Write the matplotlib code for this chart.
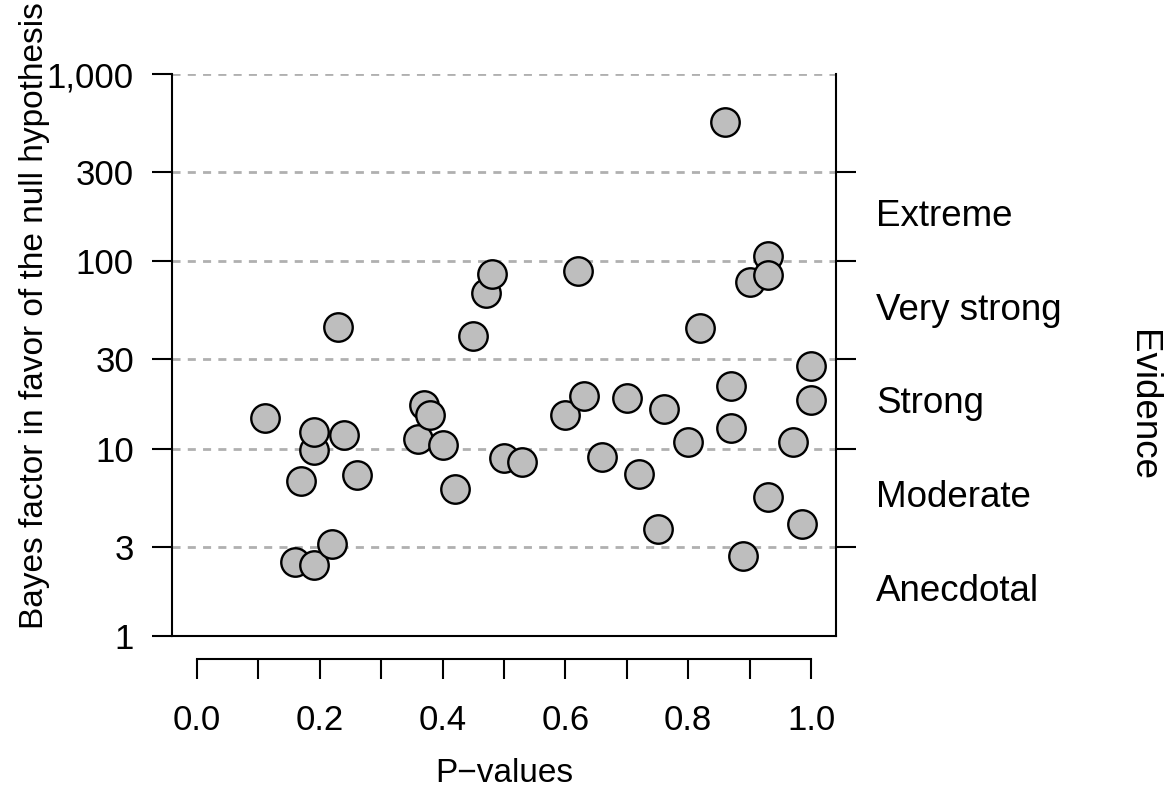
# |==============| Bibliotheken |==============|
import numpy as np
import matplotlib
matplotlib.use('Agg')
import matplotlib.pyplot as plt
from matplotlib.ticker import NullLocator, FixedLocator, FixedFormatter

# |==============| Daten |==============|
p_values = [0.11, 0.17, 0.16, 0.19, 0.19, 0.19, 0.22, 0.23, 0.24, 0.26,
            0.36, 0.37, 0.38, 0.40, 0.42, 0.45, 0.47, 0.48, 0.50, 0.53,
            0.60, 0.62, 0.63, 0.66, 0.70, 0.72, 0.75, 0.76, 0.80, 0.82,
            0.86, 0.87, 0.87, 0.89, 0.90, 0.93, 0.93, 0.93, 0.97, 0.985,
            1.00, 1.00]
bf01 = [14.5, 6.74, 2.49, 2.40, 9.88, 12.3, 3.10, 44.4, 11.9, 7.26,
        11.3, 17.0, 15.2, 10.4, 6.11, 39.7, 67.4, 85.2, 8.95, 8.52,
        15.2, 88.4, 19.0, 9.06, 18.7, 7.35, 3.73, 16.2, 10.9, 43.8,
        554, 21.5, 12.95, 2.68, 77.2, 106.3, 84.2, 5.54, 10.8, 3.97,
        27.5, 18.1]

y_ticks = [1, 3, 10, 30, 100, 300, 1000]
y_ticklabels = ['1', '3', '10', '30', '100', '300', '1,000']
grid_levels = [3, 10, 30, 100, 300, 1000]
evidence_ticks = [3, 10, 30, 100, 300]
evidence_labels = ['Anecdotal', 'Moderate', 'Strong', 'Very strong', 'Extreme']
evidence_pos = [np.sqrt(1 * 3), np.sqrt(3 * 10), np.sqrt(10 * 30),
                np.sqrt(30 * 100), np.sqrt(100 * 300)]
x_ticks = np.round(np.arange(0, 1.01, 0.1), 1)
x_ticklabels = [f'{v:.1f}' if i % 2 == 0 else '' for i, v in enumerate(x_ticks)]

# |==============| Plot |==============|
plt.rcParams['font.family'] = ['Liberation Sans', 'DejaVu Sans']
fs_tick = 25
fs_lab = 24
fs_ev = 26.5
fig = plt.figure(figsize=(11.66, 7.91), dpi=100)
ax = fig.add_axes([172/1166, 1-636/791, 664/1166, 562/791])

ax.set_yscale('log')
ax.set_ylim(1, 1000)
ax.set_xlim(-0.0407, 1.0407)

# gestrichelte Hilfslinien
for g in grid_levels:
    ax.axhline(g, color='#b0b0b0', lw=2.0, ls=(0, (2.9, 2.6)), zorder=1)
ax.axhline(1, color='black', lw=1.5, clip_on=False, zorder=3)

ax.scatter(p_values, bf01, s=420, facecolor='#bebebe', edgecolor='black',
           linewidth=1.7, zorder=4, clip_on=False)

# Achsen
ax.spines['top'].set_visible(False)
ax.spines['bottom'].set_position(('outward', 16.6))
ax.spines['bottom'].set_bounds(0, 1)
for s in ['left', 'right', 'bottom']:
    ax.spines[s].set_linewidth(1.5)

ax.yaxis.set_major_locator(FixedLocator(y_ticks))
ax.yaxis.set_major_formatter(FixedFormatter(y_ticklabels))
ax.yaxis.set_minor_locator(NullLocator())
ax.xaxis.set_major_locator(FixedLocator(x_ticks))
ax.xaxis.set_major_formatter(FixedFormatter(x_ticklabels))
ax.tick_params(axis='both', length=14.4, width=1.5, labelsize=fs_tick)
ax.tick_params(axis='y', pad=13)
ax.tick_params(axis='x', pad=18)

# rechte Achse (Evidenz)
ax2 = ax.twinx()
ax2.set_yscale('log')
ax2.set_ylim(1, 1000)
for s in ax2.spines.values():
    s.set_visible(False)
ax2.yaxis.set_major_locator(FixedLocator(evidence_ticks))
ax2.yaxis.set_major_formatter(FixedFormatter([''] * len(evidence_ticks)))
ax2.yaxis.set_minor_locator(NullLocator())
ax2.tick_params(axis='y', length=14.4, width=1.5)

trans = ax.get_yaxis_transform()
for lab, yp in zip(evidence_labels, evidence_pos):
    ax.text(1.06, yp, lab, transform=trans, ha='left', va='center', fontsize=fs_ev)

fig.text(1143/1166, 1-405/791, 'Evidence', rotation=270, ha='center', va='center', fontsize=fs_ev)
fig.text(35/1166, 1-316/791, 'Bayes factor in favor of the null hypothesis',
         rotation=90, ha='center', va='center', fontsize=fs_lab)
fig.text(504/1166, 1-773/791, 'P\u2212values', ha='center', va='center', fontsize=fs_lab)

fig.savefig('out.png', dpi=100)
